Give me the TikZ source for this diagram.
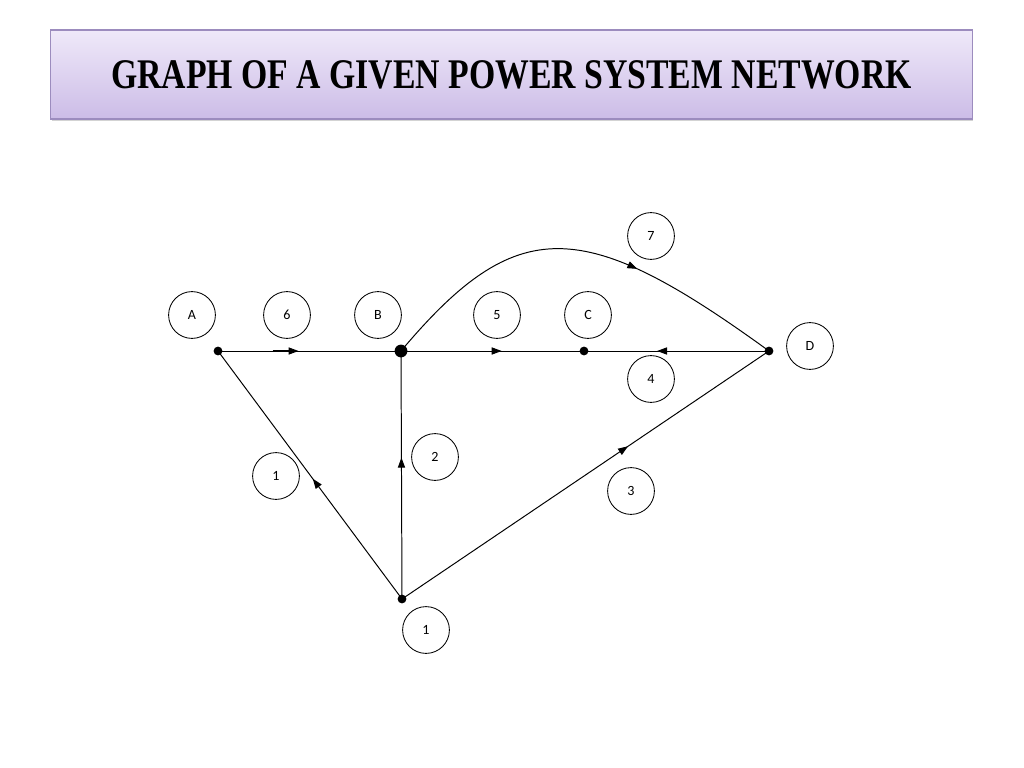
\documentclass[tikz,border=0pt]{standalone}
\usepackage{fontspec}
\newfontfamily\titlefont{Liberation Serif}[FakeStretch=0.8]
\newfontfamily\labelfont{Carlito}
\usetikzlibrary{arrows.meta,decorations.markings,shadows,calc}
\definecolor{titletop}{RGB}{239,233,249}
\definecolor{titlebottom}{RGB}{204,188,231}
\definecolor{titleborder}{RGB}{156,140,190}
\tikzstyle{every path}=[line width=0.7pt]
\tikzstyle{bus}=[circle,fill=black,minimum size=0.22cm,inner sep=0pt]
\tikzstyle{branch label}=[circle,draw,line width=0.6pt,minimum size=1.17cm,inner sep=0pt,font=\labelfont\fontsize{10}{12}\selectfont]
\tikzstyle{title box}=[rectangle,draw=titleborder,line width=0.8pt,top color=titletop,bottom color=titlebottom,
    minimum width=23.025cm,minimum height=2.225cm,inner sep=0pt,
    font=\titlefont\bfseries\fontsize{30}{30}\selectfont,
    drop shadow={shadow xshift=0.6pt,shadow yshift=-1.6pt,opacity=0.35}]
\tikzset{branch/.style={postaction={decorate,decoration={markings,
    mark=at position #1 with {\arrow{Triangle[length=0.25cm,width=0.18cm]}}}}}}
\tikzset{thick branch/.style={postaction={decorate,decoration={markings,
    mark=at position #1 with {\draw[line width=1.8pt] (-0.65cm,0) -- (-0.2cm,0); \arrow{Triangle[length=0.25cm,width=0.18cm]}}}}}}

\begin{document}
\begin{tikzpicture}[x=0.025cm,y=-0.025cm]
\useasboundingbox (0,0) rectangle (1024,768);
\def\busrow{351}

    \node[title box] (title) at (511.5,74.5) {GRAPH OF A GIVEN POWER SYSTEM NETWORK};

    % buses
    \foreach \name / \x / \size in {A/218/0.22cm, B/401/0.32cm, C/584/0.22cm, D/769/0.22cm}
        \node[bus, minimum size=\size] (bus-\name) at (\x,\busrow) {};
    \node[bus] (bus-1) at (402,599) {};

    % circled labels
    \foreach \name / \txt / \x / \y in {A/A/192/315, 6/6/287/315, B/B/378/315, 5/5/497/315, C/C/588/315,
                                        7/7/651/236, D/D/810/346, 4/4/651/379, 2/2/435/457,
                                        1/1/276/476, 3/3/631/491, n1/1/426/630}
        \node[branch label] (L-\name) at (\x,\y) {\txt};

    % branches
    \draw[thick branch=0.44] (bus-A.center) -- (bus-B.center);
    \draw[branch=0.55] (bus-B.center) -- (bus-C.center);
    \draw[branch=0.605] (bus-D.center) -- (bus-C.center);
    \draw[branch=0.64] (bus-B.center) .. controls (517,213) and (583,216) .. (bus-D.center);
    \draw[branch=0.485] (bus-1.center) -- (bus-A.center);
    \draw[branch=0.57] (bus-1.center) -- (bus-B.center);
    \draw[branch=0.616] (bus-1.center) -- (bus-D.center);

\end{tikzpicture}
\end{document}
